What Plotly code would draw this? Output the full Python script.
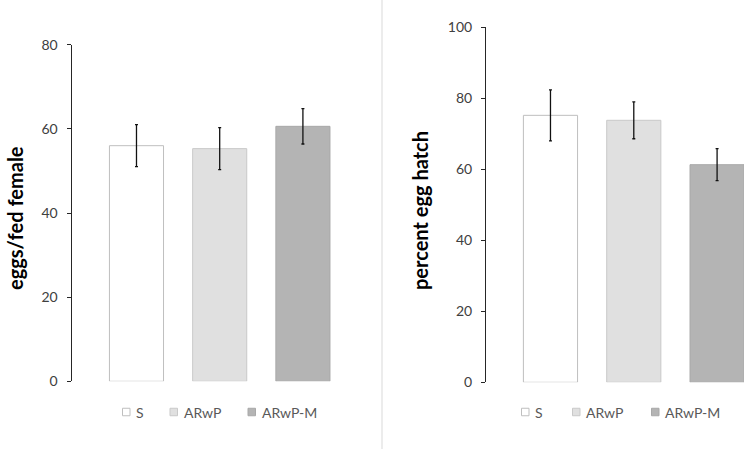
import plotly.graph_objects as go

groups = ["S", "ARwP", "ARwP-M"]
eggs_per_female = [56.0, 55.3, 60.6]
eggs_err = [5.0, 5.0, 4.2]
egg_hatch_pct = [75.2, 73.8, 61.3]
hatch_err = [7.2, 5.2, 4.5]
left_ticks = [0, 20, 40, 60, 80]
right_ticks = [0, 20, 40, 60, 80, 100]

fills = ["#ffffff", "#e0e0e0", "#b4b4b4"]
borders = ["#bfbfbf", "#c9c9c9", "#a8a8a8"]

W, H = 744, 449
FONT = "Lato, Open Sans, sans-serif"

fig = go.Figure()
for i, g in enumerate(groups):
    fig.add_trace(go.Bar(
        x=[g], y=[eggs_per_female[i]], name=g, width=0.65, showlegend=False,
        marker=dict(color=fills[i], line=dict(color=borders[i], width=1)),
        error_y=dict(type="data", array=[eggs_err[i]], color="#111111", thickness=1.3, width=1.5),
        xaxis="x", yaxis="y",
    ))
for i, g in enumerate(groups):
    fig.add_trace(go.Bar(
        x=[g], y=[egg_hatch_pct[i]], name=g, width=0.65, showlegend=False,
        marker=dict(color=fills[i], line=dict(color=borders[i], width=1)),
        error_y=dict(type="data", array=[hatch_err[i]], color="#111111", thickness=1.3, width=1.5),
        xaxis="x2", yaxis="y2",
    ))

yax = dict(showgrid=False, zeroline=False, showline=True, linecolor="#262626", linewidth=1,
           ticks="outside", ticklen=4, tickcolor="#262626", automargin=False,
           ticklabelstandoff=6,
           tickfont=dict(family=FONT, size=14, color="#404040"))
xax = dict(showgrid=False, zeroline=False, showline=False, showticklabels=False, ticks="",
           automargin=False, type="category", categoryorder="array", categoryarray=groups)

# legend swatches and labels (pixel positions of each legend entry start)
legend_left_x = [122.5, 170, 248]
legend_right_x = [521.5, 572.5, 651.5]
legend_y = 412
shapes = [dict(type="line", xref="paper", yref="paper", x0=382 / W, x1=382 / W, y0=0, y1=1,
               line=dict(color="#d9d9d9", width=1))]
annotations = [
    dict(text="<b>eggs/fed female</b>", x=15 / W, y=(H - 218) / H, xref="paper", yref="paper",
         textangle=-90, showarrow=False, xanchor="center", yanchor="middle",
         font=dict(family=FONT, size=20, color="#000000")),
    dict(text="<b>percent egg hatch</b>", x=420 / W, y=(H - 211) / H, xref="paper", yref="paper",
         textangle=-90, showarrow=False, xanchor="center", yanchor="middle",
         font=dict(family=FONT, size=20, color="#000000")),
]
for xs in (legend_left_x, legend_right_x):
    for i, g in enumerate(groups):
        x0 = xs[i]
        shapes.append(dict(type="rect", xref="paper", yref="paper",
                           x0=x0 / W, x1=(x0 + 7.5) / W,
                           y0=(H - legend_y - 3.75) / H, y1=(H - legend_y + 3.75) / H,
                           fillcolor=fills[i], line=dict(color=borders[i], width=1)))
        annotations.append(dict(text=g, x=(x0 + 11.5) / W, y=(H - legend_y) / H,
                                xref="paper", yref="paper", showarrow=False,
                                xanchor="left", yanchor="middle",
                                font=dict(family=FONT, size=14, color="#595959")))

fig.update_layout(
    width=W, height=H,
    margin=dict(l=0, r=0, t=0, b=0, pad=0, autoexpand=False),
    paper_bgcolor="white", plot_bgcolor="white",
    barmode="overlay",
    showlegend=False,
    xaxis=dict(xax, domain=[71.5 / W, 368.4 / W], range=[-0.781, 2.787]),
    yaxis=dict(yax, domain=[(H - 381.3) / H, (H - 44.7) / H], range=[0, 80], tickvals=left_ticks),
    xaxis2=dict(xax, domain=[486 / W, 1.0], range=[-0.774, 2.323], anchor="y2"),
    yaxis2=dict(yax, domain=[(H - 382.3) / H, (H - 27.3) / H], range=[0, 100], tickvals=right_ticks, anchor="x2"),
    annotations=annotations,
    shapes=shapes,
)

fig.write_html(
    "out.html",
    config={"displayModeBar": False},
    post_script="document.body.style.margin='0';document.body.style.overflow='hidden';",
)
